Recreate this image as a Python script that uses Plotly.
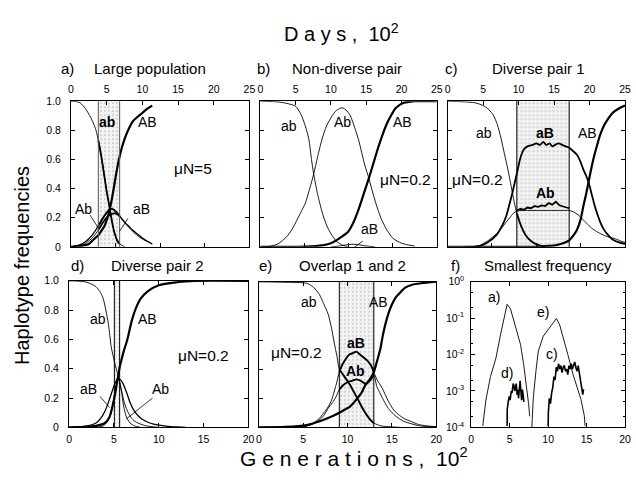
import plotly.graph_objects as go

# ---------------- DATA (x: generations x10^2, y: haplotype frequency) ----------------
# a) Large population, muN = 5
a_region = [3.06, 5.45]
a_ab_x = [0, 0.5, 1, 1.6, 2.1, 2.5, 2.8, 3.06, 3.4, 3.7, 4.0, 4.35, 4.6, 4.9, 5.2, 5.45, 6.0]
a_ab_y = [1.0, 0.998, 0.99, 0.95, 0.9, 0.85, 0.8, 0.73, 0.62, 0.5, 0.38, 0.26, 0.17, 0.09, 0.04, 0.02, 0.0]
a_AB_x = [0, 1, 2, 2.7, 3.06, 3.3, 3.8, 4.35, 4.7, 5.0, 5.3, 5.45, 5.6, 6.0, 6.4, 6.9, 7.4, 8.0, 8.6, 9.1]
a_AB_y = [0, 0.005, 0.02, 0.06, 0.08, 0.1, 0.15, 0.26, 0.37, 0.48, 0.58, 0.62, 0.66, 0.74, 0.8, 0.86, 0.89, 0.92, 0.95, 0.97]
a_Ab_x = [0, 0.8, 1.5, 2.0, 2.5, 3.06, 3.5, 4.0, 4.4, 4.8, 5.2, 5.45, 5.6, 6.0, 6.5, 7.0, 7.5, 8.0, 8.5, 9.1]
a_Ab_y = [0, 0.01, 0.03, 0.055, 0.09, 0.145, 0.19, 0.235, 0.26, 0.255, 0.23, 0.21, 0.2, 0.17, 0.14, 0.11, 0.085, 0.06, 0.04, 0.02]
a_aB_x = [0, 1.0, 1.5, 2.0, 2.5, 3.06, 3.5, 4.0, 4.5, 4.9, 5.3, 5.45, 5.7, 6.1, 6.6, 7.1, 7.6, 8.1, 8.6, 9.1]
a_aB_y = [0, 0.01, 0.02, 0.04, 0.07, 0.115, 0.16, 0.2, 0.225, 0.23, 0.22, 0.21, 0.19, 0.16, 0.125, 0.095, 0.07, 0.05, 0.035, 0.02]

# b) Non-diverse pair, muN = 0.2
b_ab_x = [0, 1, 2, 3, 4, 4.6, 5.1, 5.5, 5.8, 6.05, 6.5, 7.0, 7.5, 8.0, 8.6, 9.2, 9.9]
b_ab_y = [1.0, 0.998, 0.995, 0.985, 0.965, 0.91, 0.83, 0.74, 0.6, 0.5, 0.36, 0.24, 0.15, 0.09, 0.04, 0.015, 0.0]
b_Ab_x = [0, 1, 2, 3, 3.6, 4.2, 4.7, 5.1, 5.6, 6.05, 6.5, 7.0, 7.5, 7.85, 8.5, 9.0, 9.3, 9.7, 10.2,
          10.8, 11.2, 11.8, 12.3, 12.8, 13.3, 13.8, 14.4, 15.0, 15.5, 16.0, 16.6, 17.5]
b_Ab_y = [0, 0.003, 0.02, 0.07, 0.12, 0.19, 0.25, 0.3, 0.4, 0.5, 0.62, 0.74, 0.83, 0.87, 0.93, 0.95, 0.955, 0.94, 0.9,
          0.8, 0.72, 0.57, 0.47, 0.36, 0.26, 0.18, 0.11, 0.06, 0.04, 0.025, 0.015, 0.005]
b_AB_x = [0, 5, 7, 8, 8.5, 9, 9.9, 10.5, 11.1, 11.7, 12.3, 12.8, 13.3, 13.8, 14.3, 14.8, 15.3, 15.8, 16.3, 16.8, 17.5, 18.5, 20]
b_AB_y = [0, 0.002, 0.01, 0.025, 0.04, 0.06, 0.1, 0.16, 0.25, 0.36, 0.47, 0.57, 0.67, 0.76, 0.84, 0.9, 0.95, 0.975, 0.99, 0.995, 1, 1, 1]
b_aB_x = [8, 9, 9.8, 10.5, 11.2, 12, 13]
b_aB_y = [0, 0.006, 0.014, 0.018, 0.014, 0.006, 0]

# c) Diverse pair 1, muN = 0.2
c_region = [7.8, 13.7]
c_ab_x = [0, 1, 2, 3, 3.6, 4.3, 5.1, 5.6, 6.0, 6.4, 6.8, 7.15, 7.5, 7.8, 8.3, 8.8, 9.3, 9.9, 10.5, 11.0]
c_ab_y = [1, 0.998, 0.995, 0.99, 0.98, 0.96, 0.91, 0.84, 0.75, 0.64, 0.53, 0.42, 0.31, 0.23, 0.14, 0.08, 0.045, 0.02, 0.008, 0]
c_aB_x = [3.0, 3.6, 4.5, 5.5, 6.1, 6.6, 7.0, 7.3, 7.6, 7.9, 8.2, 8.6, 9.0, 9.6, 10.0, 10.4, 10.8, 11.1, 11.5, 11.8,
          12.1, 12.5, 12.9, 13.3, 13.7, 14.1, 14.6, 15.0, 15.3, 15.6, 15.9, 16.2, 16.5, 16.9, 17.2, 17.6, 18.1, 18.6, 19.3, 20]
c_aB_y = [0, 0.005, 0.03, 0.08, 0.14, 0.21, 0.3, 0.37, 0.45, 0.53, 0.61, 0.67, 0.69, 0.7, 0.71, 0.7, 0.72, 0.7, 0.71, 0.69,
          0.7, 0.71, 0.7, 0.69, 0.68, 0.66, 0.63, 0.58, 0.53, 0.49, 0.44, 0.37, 0.3, 0.22, 0.17, 0.12, 0.08, 0.05, 0.03, 0.02]
c_Ab_x = [2, 3, 3.6, 4.5, 5.5, 6.1, 6.6, 7.0, 7.4, 7.8, 8.5, 9.5, 10.5, 11.5, 12.5, 13.3, 13.7, 14.2, 14.7, 15.2,
          15.7, 16.2, 16.8, 17.4, 18.0, 18.9, 19.5, 20]
c_Ab_y = [0, 0.003, 0.01, 0.04, 0.09, 0.13, 0.17, 0.2, 0.23, 0.245, 0.25, 0.25, 0.25, 0.25, 0.25, 0.25, 0.25, 0.24, 0.22, 0.19,
          0.16, 0.13, 0.105, 0.085, 0.07, 0.055, 0.04, 0.03]
c_Ab_in_x = [7.8, 8.2, 8.6, 9.0, 9.4, 9.8, 10.2, 10.6, 11.0, 11.4, 11.8, 12.2, 12.6, 13.0, 13.4, 13.7]
c_Ab_in_y = [0.25, 0.26, 0.255, 0.27, 0.265, 0.28, 0.275, 0.285, 0.28, 0.3, 0.29, 0.31, 0.285, 0.275, 0.27, 0.265]
c_AB_x = [0, 9.5, 10.3, 11, 12.1, 13.0, 13.7, 14.2, 14.6, 15.0, 15.3, 15.6, 15.9, 16.2, 16.5, 16.9, 17.2, 17.6, 18.1, 18.6, 19.3, 20]
c_AB_y = [0, 0, 0.002, 0.005, 0.01, 0.025, 0.045, 0.08, 0.12, 0.19, 0.28, 0.36, 0.45, 0.54, 0.62, 0.71, 0.77, 0.83, 0.88, 0.92, 0.95, 0.97]

# d) Diverse pair 2, muN = 0.2
d_region = [5.05, 5.64]
d_ab_x = [0, 1, 2, 3, 3.5, 3.8, 4.1, 4.4, 4.7, 5.05, 5.3, 5.5, 5.64, 5.9, 6.2, 6.6, 7.0, 7.5, 8.5, 10]
d_ab_y = [1, 0.998, 0.99, 0.96, 0.92, 0.88, 0.8, 0.7, 0.55, 0.45, 0.39, 0.35, 0.31, 0.24, 0.16, 0.1, 0.06, 0.035, 0.012, 0]
d_AB_x = [0, 2, 3, 4, 4.5, 5.05, 5.3, 5.5, 5.64, 5.8, 6.1, 6.5, 7.0, 7.5, 8.0, 8.8, 10, 12, 14, 20]
d_AB_y = [0, 0.003, 0.01, 0.03, 0.07, 0.2, 0.29, 0.36, 0.41, 0.45, 0.52, 0.6, 0.73, 0.82, 0.88, 0.93, 0.97, 0.99, 1, 1]
d_aB_x = [0, 1, 2, 3, 3.5, 4, 4.5, 5.05, 5.4, 5.64, 6.0, 6.4, 6.8, 7.2, 7.7, 8.3, 9, 10, 11, 12, 13]
d_aB_y = [0, 0.003, 0.01, 0.03, 0.06, 0.11, 0.19, 0.29, 0.33, 0.33, 0.3, 0.24, 0.17, 0.12, 0.08, 0.05, 0.03, 0.015, 0.007, 0.003, 0]
d_Ab_x = [3, 3.8, 4.3, 4.7, 5.05, 5.3, 5.5, 5.64, 5.9, 6.1, 6.4, 6.8, 7.3, 8]
d_Ab_y = [0, 0.01, 0.04, 0.1, 0.22, 0.3, 0.33, 0.31, 0.22, 0.14, 0.07, 0.03, 0.01, 0]

# e) Overlap 1 and 2, muN = 0.2
e_region = [9.07, 12.96]
e_ab_x = [0, 2, 4, 5.4, 6.2, 6.85, 7.3, 7.8, 8.2, 8.5, 8.8, 9.07, 9.4, 10.2, 11.1, 11.8, 12.6, 12.96, 13.8, 14.6, 16]
e_ab_y = [1, 0.998, 0.995, 0.99, 0.96, 0.91, 0.85, 0.78, 0.68, 0.58, 0.49, 0.4, 0.37, 0.3, 0.2, 0.12, 0.05, 0.03, 0.01, 0.005, 0]
e_aB_x = [4, 5, 6, 6.8, 7.2, 7.7, 8.15, 8.7, 9.07, 9.4, 9.8, 10.2, 10.6, 11.0, 11.4, 11.8, 12.2, 12.6, 12.96,
          13.3, 13.9, 14.6, 15.2, 15.7, 16.4, 17.2, 18, 19, 20]
e_aB_y = [0, 0.005, 0.025, 0.06, 0.09, 0.13, 0.18, 0.29, 0.38, 0.43, 0.47, 0.5, 0.51, 0.52, 0.5, 0.48, 0.46, 0.43, 0.38,
          0.33, 0.27, 0.18, 0.12, 0.09, 0.06, 0.04, 0.02, 0.01, 0.005]
e_Ab_x = [4, 5, 6, 6.8, 7.3, 7.8, 8.3, 8.7, 9.07, 9.5, 10.0, 10.5, 11.0, 11.5, 12.0, 12.5, 12.96,
          13.3, 13.7, 14.2, 14.6, 15.2, 15.7, 16.4, 17.2, 18, 19, 20]
e_Ab_y = [0, 0.005, 0.02, 0.05, 0.08, 0.13, 0.17, 0.21, 0.26, 0.29, 0.31, 0.32, 0.33, 0.32, 0.3, 0.32, 0.36,
          0.28, 0.23, 0.17, 0.13, 0.09, 0.065, 0.04, 0.025, 0.012, 0.006, 0.003]
e_AB_x = [0, 3, 5.4, 6.5, 7.6, 8.4, 9.07, 9.6, 10.2, 10.7, 11.1, 11.6, 12.0, 12.5, 12.96, 13.3, 13.7, 14.0,
          14.4, 14.9, 15.4, 16.0, 16.5, 17.3, 18.3, 20]
e_AB_y = [0, 0.003, 0.016, 0.035, 0.06, 0.08, 0.1, 0.12, 0.14, 0.17, 0.2, 0.24, 0.29, 0.33, 0.38, 0.45, 0.54, 0.64,
          0.74, 0.83, 0.89, 0.93, 0.96, 0.98, 0.99, 1.0]

# f) Smallest frequency (log scale)
f_a_x = [1.5, 1.9, 2.5, 3.2, 3.8, 4.2, 4.66, 5.1, 5.7, 6.4, 6.8, 7.2, 7.45, 7.6]
f_a_y = [1.1e-4, 5.6e-4, 2.5e-3, 7.9e-3, 3.5e-2, 7.9e-2, 2.4e-1, 1.8e-1, 6.3e-2, 1.9e-2, 5.6e-3, 1.3e-3, 4.5e-4, 2.0e-4]
f_e_x = [7.87, 8.08, 8.42, 8.72, 9.36, 10.0, 10.64, 11.07, 11.5, 12.14, 12.56, 13.2, 13.85, 14.27, 14.7, 14.8]
f_e_y = [1.0e-4, 7.1e-4, 3.7e-3, 1.26e-2, 3.2e-2, 4.8e-2, 7.1e-2, 9.8e-2, 6.5e-2, 2.3e-2, 1.0e-2, 3.0e-3, 1.07e-3,
         5.8e-4, 2.1e-4, 1.1e-4]
f_d_x = [4.66, 4.68, 4.8, 4.95, 5.05, 5.2, 5.3, 5.45, 5.55, 5.65, 5.75, 5.85, 5.95, 6.05, 6.15, 6.25, 6.35,
         6.45, 6.55, 6.65, 6.75, 6.85]
f_d_y = [1.1e-4, 3.2e-4, 5.0e-4, 7.1e-4, 5.6e-4, 1.0e-3, 8.9e-4, 1.6e-3, 1.4e-3, 1.0e-3, 1.26e-3, 1.6e-3, 7.9e-4,
         1.1e-3, 6.3e-4, 1.26e-3, 1.9e-3, 1.0e-3, 5.6e-4, 1.1e-3, 7.9e-4, 5.0e-4]
f_c_x = [10.0, 10.02, 10.15, 10.3, 10.45, 10.6, 10.75, 10.9, 11.05, 11.2, 11.35, 11.5, 11.65, 11.8, 11.95, 12.1,
         12.25, 12.4, 12.55, 12.7, 12.85, 13.0, 13.15, 13.3, 13.45, 13.6, 13.75, 13.9, 14.05, 14.2, 14.35, 14.5, 14.6]
f_c_y = [1.1e-4, 2.5e-4, 6.3e-4, 4.5e-4, 8.9e-4, 1.26e-3, 2.5e-3, 2.0e-3, 4.5e-3, 3.5e-3, 5.6e-3, 4.0e-3, 5.0e-3,
         3.2e-3, 4.5e-3, 5.0e-3, 3.5e-3, 4.0e-3, 2.8e-3, 5.0e-3, 4.0e-3, 5.6e-3, 4.0e-3, 5.0e-3, 6.3e-3, 4.5e-3,
         3.5e-3, 5.0e-3, 2.8e-3, 2.0e-3, 1.26e-3, 7.9e-4, 1.1e-3]

# tick values / labels
gen_ticks = [0, 5, 10, 15, 20]
day_ticks = [0, 5, 10, 15, 20, 25]
freq_ticks = [0, 0.2, 0.4, 0.6, 0.8, 1.0]
freq_labels = ["0", "0.2", "0.4", "0.6", "0.8", "1.0"]
log_ticks = [1e-4, 1e-3, 1e-2, 1e-1, 1]
log_labels = ["10<sup>-4</sup>", "10<sup>-3</sup>", "10<sup>-2</sup>", "10<sup>-1</sup>", "10<sup>0</sup>"]

# ---------------- LAYOUT / STYLE ----------------
W, H = 636, 480
FONT = "Liberation Sans, Arial, Helvetica, sans-serif"
THIN, MED, THICK = 0.9, 1.3, 2.2
# panel boxes in pixels: left, right, top, bottom
BOX = {1: (69, 250, 96, 246), 2: (261, 440, 96, 246), 3: (451, 631, 96, 246),
       4: (67, 249, 281, 432), 5: (259.5, 439.5, 282, 432), 6: (475, 631, 282, 432)}

fig = go.Figure()


def sid(n):
    return "" if n == 1 else str(n)


def curve(n, xs, ys, width, shape="spline"):
    fig.add_trace(go.Scatter(x=xs, y=ys, mode="lines",
                             line=dict(color="black", width=width, shape=shape, smoothing=0.7),
                             xaxis="x" + sid(n), yaxis="y" + sid(n),
                             hoverinfo="skip", showlegend=False))


def inside(xs, ys, region):
    pts = [(x, y) for x, y in zip(xs, ys) if region[0] <= x <= region[1]]
    return [p[0] for p in pts], [p[1] for p in pts]


def shade(n, region):
    lo, hi = region
    fig.add_trace(go.Scatter(x=[lo, lo, hi, hi, lo], y=[0, 1, 1, 0, 0], mode="lines", fill="toself",
                             fillcolor="rgba(240,240,240,1)",
                             fillpattern=dict(shape=".", fgcolor="#9a9a9a", bgcolor="#f3f3f3",
                                              size=4, solidity=0.18),
                             line=dict(width=0), xaxis="x" + sid(n), yaxis="y" + sid(n),
                             hoverinfo="skip", showlegend=False))


shapes = []


def vlines(n, region, color="black"):
    for v in region:
        shapes.append(dict(type="line", xref="x" + sid(n), yref="y" + sid(n) + " domain",
                           x0=v, x1=v, y0=0, y1=1, line=dict(color=color, width=1)))


# panel a
shade(1, a_region)
curve(1, a_ab_x, a_ab_y, THIN)
curve(1, a_Ab_x, a_Ab_y, MED)
curve(1, a_aB_x, a_aB_y, THIN)
curve(1, a_AB_x, a_AB_y, THICK)
for xs, ys in [(a_ab_x, a_ab_y), (a_Ab_x, a_Ab_y), (a_aB_x, a_aB_y)]:
    sx, sy = inside(xs, ys, a_region)
    curve(1, sx, sy, 1.8)
vlines(1, a_region, "#555555")

# panel b
curve(2, b_ab_x, b_ab_y, THIN)
curve(2, b_Ab_x, b_Ab_y, THIN)
curve(2, b_aB_x, b_aB_y, THIN)
curve(2, b_AB_x, b_AB_y, THICK)

# panel c
shade(3, c_region)
curve(3, c_ab_x, c_ab_y, THIN)
curve(3, c_Ab_x, c_Ab_y, THIN)
curve(3, c_aB_x, c_aB_y, 1.8)
curve(3, c_AB_x, c_AB_y, THICK)
curve(3, c_Ab_in_x, c_Ab_in_y, 1.8, "linear")
sx, sy = inside(c_ab_x, c_ab_y, c_region)
curve(3, sx, sy, 1.8)
vlines(3, c_region)

# panel d
shade(4, d_region)
curve(4, d_ab_x, d_ab_y, THIN)
curve(4, d_Ab_x, d_Ab_y, THIN)
curve(4, d_aB_x, d_aB_y, MED)
curve(4, d_AB_x, d_AB_y, THICK)
vlines(4, d_region)

# panel e
shade(5, e_region)
curve(5, e_ab_x, e_ab_y, THIN)
curve(5, e_aB_x, e_aB_y, THIN)
curve(5, e_Ab_x, e_Ab_y, THIN)
curve(5, e_AB_x, e_AB_y, THICK)
for xs, ys in [(e_ab_x, e_ab_y), (e_aB_x, e_aB_y), (e_Ab_x, e_Ab_y)]:
    sx, sy = inside(xs, ys, e_region)
    curve(5, sx, sy, 1.9)
vlines(5, e_region)

# panel f
curve(6, f_a_x, f_a_y, THIN, "linear")
curve(6, f_e_x, f_e_y, THIN, "linear")
curve(6, f_d_x, f_d_y, 1.6, "linear")
curve(6, f_c_x, f_c_y, 1.6, "linear")

# invisible anchor traces so the top "days" axes are drawn
for k, n in zip((7, 8, 9), (1, 2, 3)):
    fig.add_trace(go.Scatter(x=day_ticks, y=[freq_ticks[0]] * len(day_ticks), mode="markers",
                             marker=dict(opacity=0, size=1), xaxis="x%d" % k, yaxis="y" + sid(n),
                             hoverinfo="skip", showlegend=False))

tickfont = dict(family=FONT, size=10.5, color="black")
layout = dict(width=W, height=H, autosize=False, margin=dict(l=0, r=0, t=0, b=0),
              paper_bgcolor="white", plot_bgcolor="white", showlegend=False)

for n, (l, r, t, b) in BOX.items():
    xd = [l / W, r / W]
    yd = [1 - b / H, 1 - t / H]
    bottom_row = n >= 4
    layout["xaxis" + sid(n)] = dict(
        domain=xd, anchor="y" + sid(n), range=[0, 20], tickvals=gen_ticks,
        ticks="inside", ticklen=4, tickcolor="black", showline=True, linecolor="black", linewidth=1,
        mirror="ticks" if bottom_row else True, showgrid=False, zeroline=False,
        showticklabels=bottom_row, tickfont=tickfont, ticklabelstandoff=2, fixedrange=True)
    ya = dict(domain=yd, anchor="x" + sid(n), ticks="inside", ticklen=4, tickcolor="black",
              showline=True, linecolor="black", linewidth=1, mirror="ticks",
              showgrid=False, zeroline=False, tickfont=tickfont, ticklabelstandoff=7, fixedrange=True)
    if n == 6:
        ya.update(type="log", range=[-4, 0], tickvals=log_ticks, ticktext=log_labels,
                  minor=dict(ticks="inside", ticklen=2, tickcolor="black", dtick="D2", showgrid=False),
                  ticklabelstandoff=4)
    else:
        ya.update(range=[0, 1], tickvals=freq_ticks, ticktext=freq_labels,
                  showticklabels=(n in (1, 4)))
    layout["yaxis" + sid(n)] = ya

# days axes on top of the first row
for k, n in zip((7, 8, 9), (1, 2, 3)):
    layout["xaxis%d" % k] = dict(
        overlaying="x" + sid(n), anchor="y" + sid(n), side="top", range=[0, 25], tickvals=day_ticks,
        ticks="inside", ticklen=4, tickcolor="black", showline=False, showgrid=False, zeroline=False,
        tickfont=tickfont, ticklabelstandoff=5, fixedrange=True)

fig.update_layout(**layout)


def ptxt(px, py, text, size, xanchor="left", angle=0):
    return dict(x=px / W, y=1 - py / H, xref="paper", yref="paper", text=text, showarrow=False,
                xanchor=xanchor, yanchor="middle", textangle=angle,
                font=dict(family=FONT, size=size, color="black"))


def dtxt(n, x, y, text, size=14, bold=False):
    return dict(x=x, y=y, xref="x" + sid(n), yref="y" + sid(n), text=("<b>%s</b>" % text) if bold else text,
                showarrow=False, xanchor="center", yanchor="middle",
                font=dict(family=FONT, size=size, color="black"))


ann = [
    ptxt(343, 25, "D a y s ,  10<sup>2</sup>", 20, "center"),
    ptxt(356, 463, "G e n e r a t i o n s ,  10<sup>2</sup>", 21, "center"),
    ptxt(20, 265, "Haplotype frequencies", 20, "center", -90),
    ptxt(57, 62, "a)", 15), ptxt(90.5, 62, "Large population", 15),
    ptxt(256, 62, "b)", 15), ptxt(291.5, 62, "Non-diverse pair", 15),
    ptxt(446, 62, "c)", 15), ptxt(494, 62, "Diverse pair 1", 15),
    ptxt(67, 265, "d)", 15), ptxt(108, 265, "Diverse pair 2", 15),
    ptxt(258, 265, "e)", 15), ptxt(298, 265, "Overlap 1 and 2", 15),
    ptxt(452, 265, "f)", 15), ptxt(486, 265, "Smallest frequency", 15),
    # panel a labels
    dtxt(1, 3.98, 0.86, "ab", bold=True), dtxt(1, 8.6, 0.86, "AB"),
    dtxt(1, 1.4, 0.26, "Ab"), dtxt(1, 7.85, 0.26, "aB"), dtxt(1, 13.7, 0.54, "\u03bcN=5", 15.5),
    # panel b labels
    dtxt(2, 3.2, 0.83, "ab"), dtxt(2, 9.35, 0.86, "Ab"), dtxt(2, 16.1, 0.86, "AB"),
    dtxt(2, 12.4, 0.12, "aB"), dtxt(2, 16.5, 0.46, "\u03bcN=0.2", 15.5),
    # panel c labels
    dtxt(3, 4.15, 0.785, "ab"), dtxt(3, 11.0, 0.785, "aB", bold=True), dtxt(3, 15.8, 0.785, "AB"),
    dtxt(3, 11.0, 0.37, "Ab", bold=True), dtxt(3, 3.4, 0.46, "\u03bcN=0.2", 15.5),
    # panel d labels
    dtxt(4, 3.26, 0.74, "ab"), dtxt(4, 8.75, 0.74, "AB"), dtxt(4, 2.2, 0.26, "aB"),
    dtxt(4, 10.2, 0.26, "Ab"), dtxt(4, 15.0, 0.49, "\u03bcN=0.2", 15.5),
    # panel e labels
    dtxt(5, 5.7, 0.86, "ab"), dtxt(5, 13.5, 0.86, "AB"), dtxt(5, 10.9, 0.58, "aB", bold=True),
    dtxt(5, 10.9, 0.39, "Ab", bold=True), dtxt(5, 4.26, 0.515, "\u03bcN=0.2", 15.5),
    # panel f labels (log axis: y in log10 units)
    dtxt(6, 2.95, -0.43, "a)"), dtxt(6, 9.36, -0.82, "e)"), dtxt(6, 10.5, -1.99, "c)"), dtxt(6, 4.65, -2.5, "d)"),
]

# pointer lines from labels to curves (pixel positions)
for (x0, y0, x1, y1) in [(88.3, 213.3, 96.7, 226.7), (126.7, 216.7, 118.3, 230),
                         (365, 240, 357, 246), (98.3, 400, 108.3, 411.7), (151.7, 401.7, 125, 423.3)]:
    shapes.append(dict(type="line", xref="paper", yref="paper", x0=x0 / W, y0=1 - y0 / H,
                       x1=x1 / W, y1=1 - y1 / H, line=dict(color="black", width=0.8)))

fig.update_layout(annotations=ann, shapes=shapes)
fig.write_html("out.html", include_plotlyjs=True, config={"displayModeBar": False, "staticPlot": True})
